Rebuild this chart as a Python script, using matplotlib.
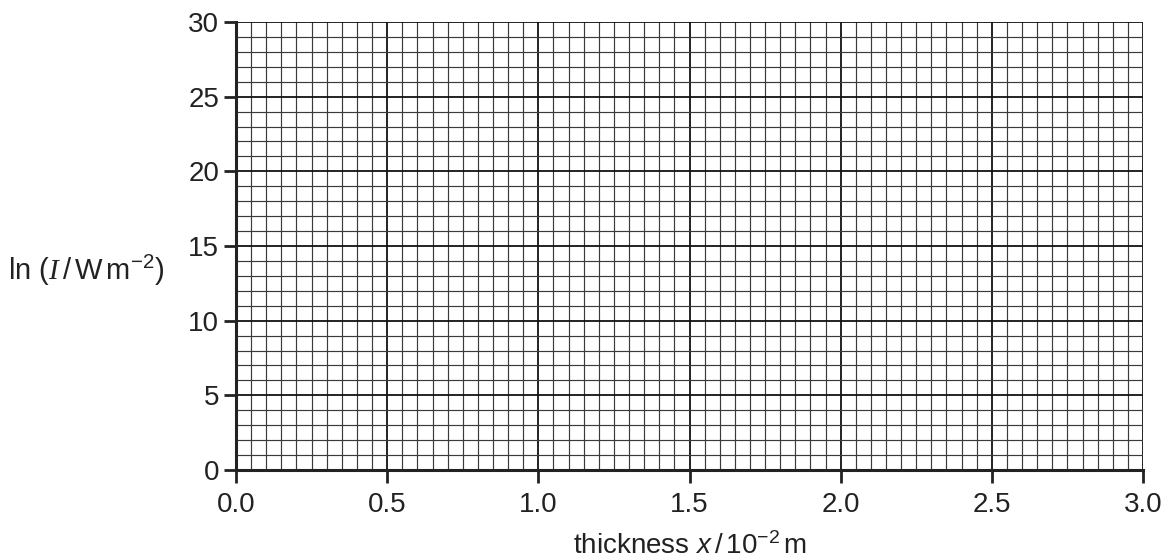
import numpy as np
import matplotlib.pyplot as plt

plt.rcParams['font.family'] = ['Liberation Sans', 'DejaVu Sans']
plt.rcParams['mathtext.fontset'] = 'custom'
plt.rcParams['mathtext.it'] = 'Liberation Sans:italic'
plt.rcParams['mathtext.cal'] = 'Liberation Serif:italic'
plt.rcParams['mathtext.rm'] = 'Liberation Sans'

# axis data
x_ticks = [0.0, 0.5, 1.0, 1.5, 2.0, 2.5, 3.0]
y_ticks = [0, 5, 10, 15, 20, 25, 30]
x_minor_step = 0.05
y_minor_step = 1

fig = plt.figure(figsize=(11.71, 5.6), dpi=100)
ax = fig.add_axes([236 / 1171, 90 / 560, 907 / 1171, 448 / 560])

ax.set_xlim(x_ticks[0], x_ticks[-1])
ax.set_ylim(y_ticks[0], y_ticks[-1])
ax.set_xticks(x_ticks)
ax.set_xticklabels(['%.1f' % v for v in x_ticks])
ax.set_yticks(y_ticks)
ax.set_xticks(np.arange(x_ticks[0], x_ticks[-1] + 1e-9, x_minor_step), minor=True)
ax.set_yticks(np.arange(y_ticks[0], y_ticks[-1] + 1e-9, y_minor_step), minor=True)

ax.grid(which='minor', color='#3a3a3a', linewidth=0.85)
ax.grid(which='major', color='#111111', linewidth=1.3)
ax.set_axisbelow(True)

for side in ['top', 'right']:
    ax.spines[side].set_visible(False)
for side in ['left', 'bottom']:
    ax.spines[side].set_linewidth(2.2)
    ax.spines[side].set_color('#222222')

ax.tick_params(which='major', length=9, width=2, color='#222222',
               labelsize=20, labelcolor='#222222')
ax.tick_params(axis='x', which='major', pad=7)
ax.tick_params(axis='y', which='major', pad=3)
ax.tick_params(which='minor', length=0)

ax.set_xlabel('thickness $\\mathit{x}\\,$/$\\,$10$^{-2}$$\\,$m', fontsize=20,
              color='#222222', labelpad=10)
fig.text(8 / 1171, 1 - 270 / 560,
         'ln ($\\mathcal{I}\\,$/$\\,$W$\\,$m$^{-2}$)',
         fontsize=21, color='#222222', va='center', ha='left')

fig.savefig('out.png', dpi=100)
